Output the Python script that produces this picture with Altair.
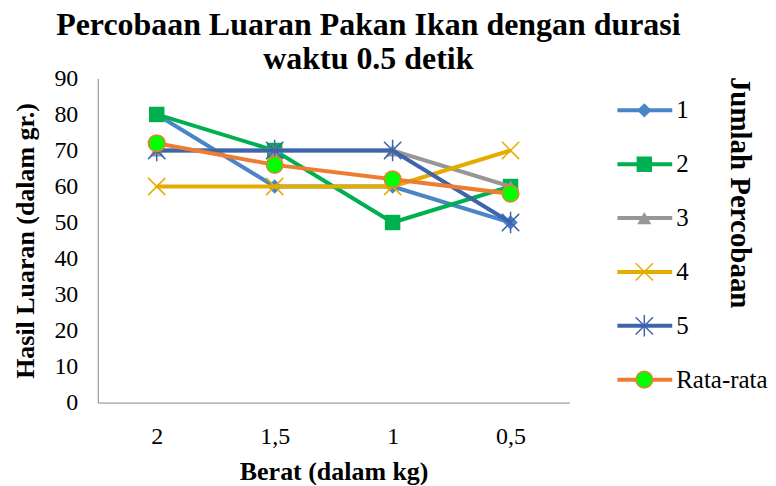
import altair as alt
import pandas as pd

# ---- data ----
berat = ["2", "1,5", "1", "0,5"]
seri = ["1", "2", "3", "4", "5", "Rata-rata"]
seri_1 = [80, 60, 60, 50]
seri_2 = [80, 70, 50, 60]
seri_3 = [70, 70, 70, 60]
seri_4 = [60, 60, 60, 70]
seri_5 = [70, 70, 70, 50]
rata_rata = [72, 66, 62, 58]
y_ticks = [0, 10, 20, 30, 40, 50, 60, 70, 80, 90]

nilai = [seri_1, seri_2, seri_3, seri_4, seri_5, rata_rata]

FONT = "Liberation Serif"
X_PATH = "M-1,-1L1,1M-1,1L1,-1"
STAR_PATH = "M-1,-1L1,1M-1,1L1,-1M0,-1.25L0,1.25"

# style per series
gaya = [
    dict(color="#4A86C5", shape="diamond", filled=True, size=210, fill="#4A86C5", stroke="#4A86C5", sw=0),
    dict(color="#00B050", shape="square", filled=True, size=240, fill="#00B050", stroke="#00B050", sw=0),
    dict(color="#979797", shape="triangle-up", filled=True, size=200, fill="#979797", stroke="#979797", sw=0),
    dict(color="#E5AC00", shape=X_PATH, filled=False, size=300, fill="none", stroke="#E5AC00", sw=1.5),
    dict(color="#3F64AE", shape=STAR_PATH, filled=False, size=300, fill="none", stroke="#3F64AE", sw=1.5),
    dict(color="#ED7D31", shape="circle", filled=True, size=280, fill="#00FF00", stroke="#ED7D31", sw=1.5),
]

rows = []
for s, vals in zip(seri, nilai):
    for b, v in zip(berat, vals):
        rows.append({"berat": b, "nilai": v, "seri": s})
df = pd.DataFrame(rows)

xenc = alt.X(
    "berat:N",
    sort=berat,
    scale=alt.Scale(type="point", padding=0.5, domain=berat),
    axis=alt.Axis(title="Berat (dalam kg)", labelAngle=0, labelPadding=22, titlePadding=10),
)
yenc = alt.Y(
    "nilai:Q",
    scale=alt.Scale(domain=[0, 90], nice=False),
    axis=alt.Axis(values=y_ticks, title="Hasil Luaran (dalam gr.)", labelPadding=20, titlePadding=15),
)


def marker(base, g):
    kw = dict(shape=g["shape"], filled=g["filled"], size=g["size"], opacity=1)
    if g["filled"]:
        kw["fill"] = g["fill"]
        if g["sw"] > 0:
            kw["stroke"] = g["stroke"]
            kw["strokeWidth"] = g["sw"]
    else:
        kw["stroke"] = g["stroke"]
        kw["strokeWidth"] = g["sw"]
    return base.mark_point(**kw)


layers = []
for s, g in zip(seri, gaya):
    base = alt.Chart(df).transform_filter(alt.datum.seri == s)
    layers.append(base.mark_line(color=g["color"], strokeWidth=4).encode(x=xenc, y=yenc))
    layers.append(marker(base, g).encode(x=xenc, y=yenc))

main = alt.layer(*layers).properties(width=473, height=325)

# ---- legend panel ----
ldf = pd.DataFrame({"seri": seri})
ly = alt.Y(
    "seri:N",
    sort=seri,
    scale=alt.Scale(type="point", domain=seri, range=[32, 302], padding=0),
    axis=alt.Axis(
        orient="right", labels=False, ticks=False, domain=False,
        title="Jumlah Percobaan", titleAngle=90, titleFontSize=29,
        titleX=10, titleY=114, titleAlign="center", titleBaseline="middle",
    ),
)
leg_layers = []
for s, g in zip(seri, gaya):
    lb = alt.Chart(ldf).transform_filter(alt.datum.seri == s)
    leg_layers.append(lb.mark_rule(color=g["color"], strokeWidth=4).encode(
        x=alt.value(0), x2=alt.value(55), y=ly))
    leg_layers.append(marker(lb, g).encode(x=alt.value(27), y=ly))
leg_layers.append(alt.Chart(ldf).mark_text(
    align="left", baseline="middle", font=FONT, fontSize=25, color="black"
).encode(x=alt.value(59), y=ly, text="seri:N"))

legend = alt.layer(*leg_layers).properties(width=112, height=325)

chart = alt.hconcat(main, legend, spacing=48, bounds="flush").properties(
    title=alt.TitleParams(
        ["Percobaan Luaran Pakan Ikan dengan durasi", "waktu 0.5 detik"],
        font=FONT, fontSize=32, fontWeight="bold", color="black",
        lineHeight=35, anchor="middle", dx=-22, offset=-10,
    ),
    padding={"left": 5, "top": 0, "right": 0, "bottom": 0},
    background="white",
).configure_view(stroke=None).configure_axis(
    domainColor="#868686",
    domainWidth=1,
    ticks=False,
    grid=False,
    labelFont=FONT,
    labelFontSize=24,
    labelColor="black",
    titleFont=FONT,
    titleFontSize=26,
    titleFontWeight="bold",
    titleColor="black",
)

chart.save("out.html", embed_options={"renderer": "svg", "actions": False})
